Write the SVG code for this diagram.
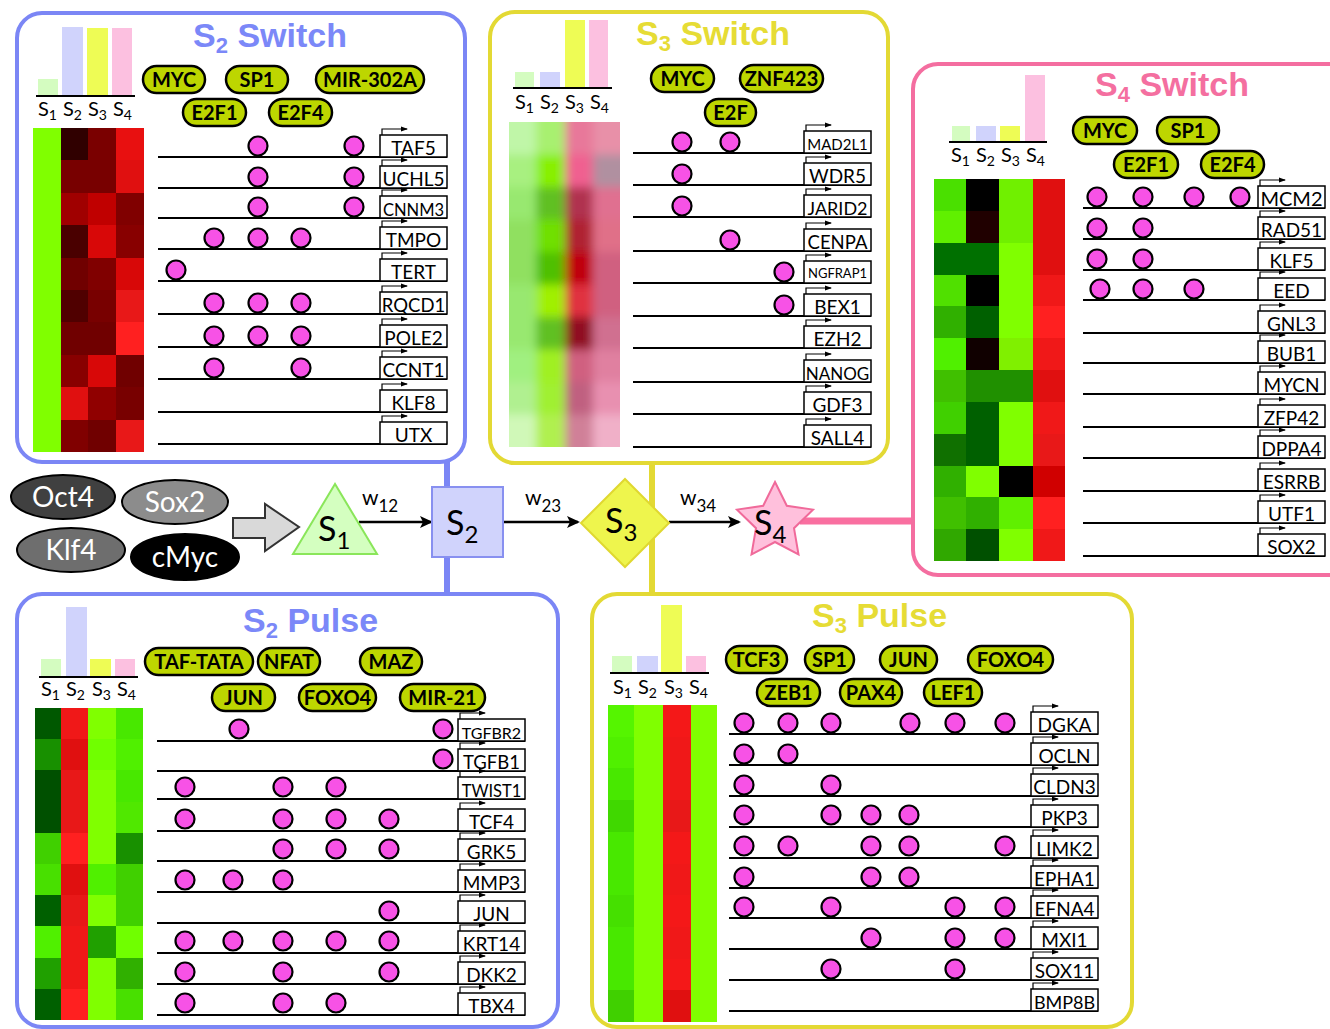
<svg xmlns="http://www.w3.org/2000/svg" width="1330" height="1029" viewBox="0 0 1330 1029">
<style>
.pan{fill:#fff;stroke-width:4}
.ttl{font-family:"Liberation Sans",Arial,sans-serif;font-weight:bold;font-size:34px}
.pill{fill:#bdd600;stroke:#000;stroke-width:2.5}
.tft{font-family:Lato,"Open Sans",sans-serif;font-weight:bold;font-size:20px;text-anchor:middle;fill:#000}
.gl{stroke:#000;stroke-width:2}
.gt{font-family:Lato,"Open Sans",sans-serif;font-size:19px;text-anchor:middle;fill:#000}
.bs{fill:#f752e6;stroke:#000;stroke-width:2.2}
.sl{font-family:Lato,"Open Sans",sans-serif;font-size:20px;fill:#000}
.bl{stroke:#000;stroke-width:2}
.b1{fill:#d4fcc0}.b2{fill:#d0d3fc}.b3{fill:#eefc55}.b4{fill:#fcc0e0}
.nl{font-family:Lato,"Open Sans",sans-serif;font-size:34px;fill:#000}
.wl{font-family:Lato,"Open Sans",sans-serif;font-size:21px;fill:#000}
.tfn{font-family:Lato,"Open Sans",sans-serif;font-size:28px;fill:#fff;text-anchor:middle}
.arr{stroke:#000;stroke-width:2.5;fill:none}
.hm rect{shape-rendering:crispEdges}
</style>
<defs>
<marker id="sa" markerWidth="7" markerHeight="6" refX="6" refY="3" orient="auto" markerUnits="userSpaceOnUse"><path d="M0,0.5 L7,3 L0,5.5z"/></marker>
<marker id="ah" markerWidth="13" markerHeight="12" refX="11" refY="6" orient="auto" markerUnits="userSpaceOnUse"><path d="M0,0 L13,6 L0,12 L3,6z"/></marker>
<g id="gb"><rect x="0" y="0" width="67" height="22" fill="#fff" stroke="#000" stroke-width="1.5"/><path d="M2,0 V-6 H27" fill="none" stroke="#000" stroke-width="1.2" marker-end="url(#sa)"/></g>
<clipPath id="c3"><rect x="509" y="122" width="111" height="325"/></clipPath>
<filter id="blur" x="-10%" y="-10%" width="120%" height="120%"><feGaussianBlur stdDeviation="5"/></filter>
</defs>

<g id="connectors">
<line x1="447" y1="462" x2="447" y2="594" stroke="#7b86f5" stroke-width="6"/>
<line x1="652" y1="463" x2="652" y2="594" stroke="#e3d934" stroke-width="6"/>
<line x1="800" y1="521" x2="914" y2="521" stroke="#f96fa0" stroke-width="7"/>
<line class="arr" x1="359" y1="522" x2="431" y2="522" marker-end="url(#ah)"/>
<line class="arr" x1="503" y1="522" x2="578" y2="522" marker-end="url(#ah)"/>
<line class="arr" x1="669" y1="522" x2="739" y2="522" marker-end="url(#ah)"/>
<polygon points="233,518 265,518 265,504 299,527 265,551 265,538 233,538" fill="#d9d9d9" stroke="#333" stroke-width="2"/>
<text class="wl" x="362" y="505">w<tspan dy="7" font-size="17">12</tspan></text>
<text class="wl" x="525" y="505">w<tspan dy="7" font-size="17">23</tspan></text>
<text class="wl" x="680" y="505">w<tspan dy="7" font-size="17">34</tspan></text>
</g>

<g id="factors">
<g id="oct4"><ellipse cx="63" cy="497" rx="52" ry="22" fill="#404040" stroke="#000" stroke-width="2"/><text class="tfn" x="63" y="507">Oct4</text></g>
<g id="sox2"><ellipse cx="175" cy="502" rx="53" ry="22" fill="#8c8c8c" stroke="#000" stroke-width="2"/><text class="tfn" x="175" y="512">Sox2</text></g>
<g id="klf4"><ellipse cx="71" cy="550" rx="54" ry="22" fill="#6e6e6e" stroke="#000" stroke-width="2"/><text class="tfn" x="71" y="560">Klf4</text></g>
<g id="cmyc"><ellipse cx="185" cy="557" rx="54" ry="23" fill="#000" stroke="#000" stroke-width="2"/><text class="tfn" x="185" y="567">cMyc</text></g>
</g>

<g id="node-s1"><polygon points="335,484 293,554 377,554" fill="#d4ffc0" stroke="#8ae65a" stroke-width="2"/><text class="nl" x="318" y="541">S<tspan dy="8" font-size="24">1</tspan></text></g>
<g id="node-s2"><rect x="432" y="487" width="71" height="70" fill="#d0d3fc" stroke="#8890f0" stroke-width="2"/><text class="nl" x="446" y="535">S<tspan dy="8" font-size="24">2</tspan></text></g>
<g id="node-s3"><polygon points="625,479 669,523 625,567 581,523" fill="#eef54d" stroke="#e0d830" stroke-width="2"/><text class="nl" x="605" y="533">S<tspan dy="8" font-size="24">3</tspan></text></g>
<g id="node-s4"><polygon points="775,482 786.8,505.8 813,509.6 794,528.2 798.5,554.4 775,542 751.5,554.4 756,528.2 737,509.6 763.2,505.8" fill="#ffc0dc" stroke="#f06a9a" stroke-width="2"/><text class="nl" x="754" y="535">S<tspan dy="8" font-size="24">4</tspan></text></g>

<!-- S2 Switch -->
<g id="s2-switch">
<rect class="pan" x="17" y="13" width="448" height="449" rx="25" stroke="#7b86f5"/>
<text class="ttl" x="193" y="47" fill="#7b88f8">S<tspan dy="6" font-size="22">2</tspan><tspan dy="-6"> Switch</tspan></text>
<rect class="b1" x="38" y="79" width="20" height="17"/><rect class="b2" x="62" y="27" width="21" height="69"/><rect class="b3" x="87" y="28" width="21" height="68"/><rect class="b4" x="112" y="28" width="20" height="68"/>
<line class="bl" x1="36" y1="96" x2="135" y2="96"/>
<text class="sl" x="38" y="116">S<tspan dy="4" font-size="14">1</tspan></text>
<text class="sl" x="63" y="116">S<tspan dy="4" font-size="14">2</tspan></text>
<text class="sl" x="88" y="116">S<tspan dy="4" font-size="14">3</tspan></text>
<text class="sl" x="113" y="116">S<tspan dy="4" font-size="14">4</tspan></text>
<g class="hm">
<rect x="33" y="128" width="28" height="324" fill="#80ff00"/>
<rect x="61" y="128" width="27" height="33" fill="#300000"/><rect x="88" y="128" width="28" height="33" fill="#7a0000"/><rect x="116" y="128" width="28" height="33" fill="#e81010"/>
<rect x="61" y="160.4" width="27" height="33" fill="#780000"/><rect x="88" y="160.4" width="28" height="33" fill="#780000"/><rect x="116" y="160.4" width="28" height="33" fill="#e01010"/>
<rect x="61" y="192.8" width="27" height="33" fill="#a00000"/><rect x="88" y="192.8" width="28" height="33" fill="#c00000"/><rect x="116" y="192.8" width="28" height="33" fill="#800000"/>
<rect x="61" y="225.2" width="27" height="33" fill="#4a0000"/><rect x="88" y="225.2" width="28" height="33" fill="#d80808"/><rect x="116" y="225.2" width="28" height="33" fill="#880000"/>
<rect x="61" y="257.6" width="27" height="33" fill="#700000"/><rect x="88" y="257.6" width="28" height="33" fill="#800000"/><rect x="116" y="257.6" width="28" height="33" fill="#d80808"/>
<rect x="61" y="290" width="27" height="33" fill="#500000"/><rect x="88" y="290" width="28" height="33" fill="#780000"/><rect x="116" y="290" width="28" height="33" fill="#e81818"/>
<rect x="61" y="322.4" width="27" height="33" fill="#700000"/><rect x="88" y="322.4" width="28" height="33" fill="#700000"/><rect x="116" y="322.4" width="28" height="33" fill="#ff2020"/>
<rect x="61" y="354.8" width="27" height="33" fill="#880000"/><rect x="88" y="354.8" width="28" height="33" fill="#d80808"/><rect x="116" y="354.8" width="28" height="33" fill="#700000"/>
<rect x="61" y="387.2" width="27" height="33" fill="#e01010"/><rect x="88" y="387.2" width="28" height="33" fill="#900000"/><rect x="116" y="387.2" width="28" height="33" fill="#780000"/>
<rect x="61" y="419.6" width="27" height="32.4" fill="#800000"/><rect x="88" y="419.6" width="28" height="32.4" fill="#700000"/><rect x="116" y="419.6" width="28" height="32.4" fill="#e81818"/>
</g>
<rect class="pill" x="143" y="66" width="62" height="27" rx="13.5"/><text class="tft" x="174" y="86.5">MYC</text>
<rect class="pill" x="226" y="66" width="62" height="27" rx="13.5"/><text class="tft" x="257" y="86.5">SP1</text>
<rect class="pill" x="316" y="66" width="108" height="27" rx="13.5"/><text class="tft" x="370" y="86.5">MIR-302A</text>
<rect class="pill" x="183" y="99" width="63" height="27" rx="13.5"/><text class="tft" x="214.5" y="119.5">E2F1</text>
<rect class="pill" x="269" y="99" width="63" height="27" rx="13.5"/><text class="tft" x="300.5" y="119.5">E2F4</text>
<line class="gl" x1="158" y1="157" x2="447" y2="157"/><use href="#gb" x="380" y="135"/><text class="gt" x="413.5" y="155">TAF5</text><circle class="bs" cx="258" cy="146" r="9.5"/><circle class="bs" cx="354" cy="146" r="9.5"/>
<line class="gl" x1="158" y1="188" x2="447" y2="188"/><use href="#gb" x="380" y="166"/><text class="gt" x="413.5" y="186">UCHL5</text><circle class="bs" cx="258" cy="177" r="9.5"/><circle class="bs" cx="354" cy="177" r="9.5"/>
<line class="gl" x1="158" y1="218" x2="447" y2="218"/><use href="#gb" x="380" y="196"/><text class="gt" x="413.5" y="216" style="font-size:16.5px">CNNM3</text><circle class="bs" cx="258" cy="207" r="9.5"/><circle class="bs" cx="354" cy="207" r="9.5"/>
<line class="gl" x1="158" y1="249" x2="447" y2="249"/><use href="#gb" x="380" y="227"/><text class="gt" x="413.5" y="247">TMPO</text><circle class="bs" cx="214" cy="238" r="9.5"/><circle class="bs" cx="258" cy="238" r="9.5"/><circle class="bs" cx="301" cy="238" r="9.5"/>
<line class="gl" x1="158" y1="281" x2="447" y2="281"/><use href="#gb" x="380" y="259"/><text class="gt" x="413.5" y="279">TERT</text><circle class="bs" cx="176" cy="270" r="9.5"/>
<line class="gl" x1="158" y1="314" x2="447" y2="314"/><use href="#gb" x="380" y="292"/><text class="gt" x="413.5" y="312" style="font-size:18.5px">RQCD1</text><circle class="bs" cx="214" cy="303" r="9.5"/><circle class="bs" cx="258" cy="303" r="9.5"/><circle class="bs" cx="301" cy="303" r="9.5"/>
<line class="gl" x1="158" y1="347" x2="447" y2="347"/><use href="#gb" x="380" y="325"/><text class="gt" x="413.5" y="345">POLE2</text><circle class="bs" cx="214" cy="336" r="9.5"/><circle class="bs" cx="258" cy="336" r="9.5"/><circle class="bs" cx="301" cy="336" r="9.5"/>
<line class="gl" x1="158" y1="379" x2="447" y2="379"/><use href="#gb" x="380" y="357"/><text class="gt" x="413.5" y="377">CCNT1</text><circle class="bs" cx="214" cy="368" r="9.5"/><circle class="bs" cx="301" cy="368" r="9.5"/>
<line class="gl" x1="158" y1="412" x2="447" y2="412"/><use href="#gb" x="380" y="390"/><text class="gt" x="413.5" y="410">KLF8</text>
<line class="gl" x1="158" y1="444" x2="447" y2="444"/><use href="#gb" x="380" y="422"/><text class="gt" x="413.5" y="442">UTX</text>
</g>

<!-- S3 Switch -->
<g id="s3-switch">
<rect class="pan" x="490" y="12" width="398" height="451" rx="25" stroke="#e3d934"/>
<text class="ttl" x="636" y="45" fill="#e6dc35">S<tspan dy="6" font-size="22">3</tspan><tspan dy="-6"> Switch</tspan></text>
<rect class="b1" x="515" y="72" width="19" height="16"/><rect class="b2" x="540" y="72" width="20" height="16"/><rect class="b3" x="565" y="20" width="20" height="68"/><rect class="b4" x="589" y="20" width="19" height="68"/>
<line class="bl" x1="513" y1="88" x2="612" y2="88"/>
<text class="sl" x="515" y="109">S<tspan dy="4" font-size="14">1</tspan></text>
<text class="sl" x="540" y="109">S<tspan dy="4" font-size="14">2</tspan></text>
<text class="sl" x="565" y="109">S<tspan dy="4" font-size="14">3</tspan></text>
<text class="sl" x="590" y="109">S<tspan dy="4" font-size="14">4</tspan></text>
<g clip-path="url(#c3)"><g filter="url(#blur)">
<rect x="495" y="108" width="41" height="47" fill="#c0f6a8"/><rect x="536" y="108" width="29" height="47" fill="#a8f070"/><rect x="565" y="108" width="28" height="47" fill="#e8789a"/><rect x="593" y="108" width="41" height="47" fill="#e890a8"/>
<rect x="495" y="154.5" width="41" height="33" fill="#a8f080"/><rect x="536" y="154.5" width="29" height="33" fill="#88f000"/><rect x="565" y="154.5" width="28" height="33" fill="#f06090"/><rect x="593" y="154.5" width="41" height="33" fill="#b090a0"/>
<rect x="495" y="187" width="41" height="33" fill="#98e870"/><rect x="536" y="187" width="29" height="33" fill="#60c020"/><rect x="565" y="187" width="28" height="33" fill="#b03050"/><rect x="593" y="187" width="41" height="33" fill="#e07090"/>
<rect x="495" y="219.5" width="41" height="33" fill="#90e060"/><rect x="536" y="219.5" width="29" height="33" fill="#70e000"/><rect x="565" y="219.5" width="28" height="33" fill="#b02030"/><rect x="593" y="219.5" width="41" height="33" fill="#e07088"/>
<rect x="495" y="252" width="41" height="33" fill="#90e060"/><rect x="536" y="252" width="29" height="33" fill="#50c000"/><rect x="565" y="252" width="28" height="33" fill="#c00010"/><rect x="593" y="252" width="41" height="33" fill="#d06080"/>
<rect x="495" y="284.5" width="41" height="33" fill="#98e870"/><rect x="536" y="284.5" width="29" height="33" fill="#a0f000"/><rect x="565" y="284.5" width="28" height="33" fill="#e03040"/><rect x="593" y="284.5" width="41" height="33" fill="#d06080"/>
<rect x="495" y="317" width="41" height="33" fill="#98e870"/><rect x="536" y="317" width="29" height="33" fill="#60c020"/><rect x="565" y="317" width="28" height="33" fill="#901020"/><rect x="593" y="317" width="41" height="33" fill="#d07090"/>
<rect x="495" y="349.5" width="41" height="33" fill="#a0f080"/><rect x="536" y="349.5" width="29" height="33" fill="#a0f020"/><rect x="565" y="349.5" width="28" height="33" fill="#d06080"/><rect x="593" y="349.5" width="41" height="33" fill="#e080a0"/>
<rect x="495" y="382" width="41" height="33" fill="#b0f090"/><rect x="536" y="382" width="29" height="33" fill="#a0f030"/><rect x="565" y="382" width="28" height="33" fill="#c06080"/><rect x="593" y="382" width="41" height="33" fill="#e890b0"/>
<rect x="495" y="414.5" width="41" height="47" fill="#d0f8b8"/><rect x="536" y="414.5" width="29" height="47" fill="#b0f050"/><rect x="565" y="414.5" width="28" height="47" fill="#d08098"/><rect x="593" y="414.5" width="41" height="47" fill="#f0b0c8"/>
</g></g>
<rect class="pill" x="651" y="65" width="63" height="27" rx="13.5"/><text class="tft" x="682.5" y="85.5">MYC</text>
<rect class="pill" x="740" y="65" width="83" height="27" rx="13.5"/><text class="tft" x="781.5" y="85.5">ZNF423</text>
<rect class="pill" x="705" y="99" width="51" height="27" rx="13.5"/><text class="tft" x="730.5" y="119.5">E2F</text>
<line class="gl" x1="633" y1="153" x2="871" y2="153"/><use href="#gb" x="804" y="131"/><text class="gt" x="837.5" y="150" style="font-size:15px">MAD2L1</text><circle class="bs" cx="682" cy="142" r="9.5"/><circle class="bs" cx="730" cy="142" r="9.5"/>
<line class="gl" x1="633" y1="185" x2="871" y2="185"/><use href="#gb" x="804" y="163"/><text class="gt" x="837.5" y="183">WDR5</text><circle class="bs" cx="682" cy="174" r="9.5"/>
<line class="gl" x1="633" y1="217" x2="871" y2="217"/><use href="#gb" x="804" y="195"/><text class="gt" x="837.5" y="215" style="font-size:18px">JARID2</text><circle class="bs" cx="682" cy="206" r="9.5"/>
<line class="gl" x1="633" y1="251" x2="871" y2="251"/><use href="#gb" x="804" y="229"/><text class="gt" x="837.5" y="249" style="font-size:18.5px">CENPA</text><circle class="bs" cx="730" cy="240" r="9.5"/>
<line class="gl" x1="633" y1="283" x2="871" y2="283"/><use href="#gb" x="804" y="261"/><text class="gt" x="837.5" y="278" style="font-size:13px">NGFRAP1</text><circle class="bs" cx="784" cy="272" r="9.5"/>
<line class="gl" x1="633" y1="316" x2="871" y2="316"/><use href="#gb" x="804" y="294"/><text class="gt" x="837.5" y="314">BEX1</text><circle class="bs" cx="784" cy="305" r="9.5"/>
<line class="gl" x1="633" y1="348" x2="871" y2="348"/><use href="#gb" x="804" y="326"/><text class="gt" x="837.5" y="346">EZH2</text>
<line class="gl" x1="633" y1="382" x2="871" y2="382"/><use href="#gb" x="804" y="360"/><text class="gt" x="837.5" y="380" style="font-size:17px">NANOG</text>
<line class="gl" x1="633" y1="414" x2="871" y2="414"/><use href="#gb" x="804" y="392"/><text class="gt" x="837.5" y="412">GDF3</text>
<line class="gl" x1="633" y1="447" x2="871" y2="447"/><use href="#gb" x="804" y="425"/><text class="gt" x="837.5" y="445">SALL4</text>
</g>

<!-- S4 Switch -->
<g id="s4-switch">
<rect class="pan" x="913" y="64" width="440" height="511" rx="25" stroke="#f46ea0"/>
<text class="ttl" x="1095" y="96" fill="#f46fa0">S<tspan dy="6" font-size="22">4</tspan><tspan dy="-6"> Switch</tspan></text>
<rect class="b1" x="952" y="126" width="18" height="16"/><rect class="b2" x="976" y="126" width="20" height="16"/><rect class="b3" x="1000" y="126" width="20" height="16"/><rect class="b4" x="1025" y="75" width="20" height="67"/>
<line class="bl" x1="949" y1="142" x2="1047" y2="142"/>
<text class="sl" x="951" y="162">S<tspan dy="4" font-size="14">1</tspan></text>
<text class="sl" x="976" y="162">S<tspan dy="4" font-size="14">2</tspan></text>
<text class="sl" x="1001" y="162">S<tspan dy="4" font-size="14">3</tspan></text>
<text class="sl" x="1026" y="162">S<tspan dy="4" font-size="14">4</tspan></text>
<g class="hm">
<rect x="934" y="179" width="32" height="32.3" fill="#4ae000"/><rect x="966" y="179" width="33" height="32.3" fill="#000000"/><rect x="999" y="179" width="34" height="32.3" fill="#70f000"/><rect x="1033" y="179" width="32" height="32.3" fill="#e01010"/>
<rect x="934" y="210.8" width="32" height="32.3" fill="#60f000"/><rect x="966" y="210.8" width="33" height="32.3" fill="#200000"/><rect x="999" y="210.8" width="34" height="32.3" fill="#70f000"/><rect x="1033" y="210.8" width="32" height="32.3" fill="#e01010"/>
<rect x="934" y="242.7" width="32" height="32.3" fill="#007000"/><rect x="966" y="242.7" width="33" height="32.3" fill="#007000"/><rect x="999" y="242.7" width="34" height="32.3" fill="#80ff00"/><rect x="1033" y="242.7" width="32" height="32.3" fill="#e01010"/>
<rect x="934" y="274.5" width="32" height="32.3" fill="#50e000"/><rect x="966" y="274.5" width="33" height="32.3" fill="#000000"/><rect x="999" y="274.5" width="34" height="32.3" fill="#80ff00"/><rect x="1033" y="274.5" width="32" height="32.3" fill="#f01818"/>
<rect x="934" y="306.3" width="32" height="32.3" fill="#30b000"/><rect x="966" y="306.3" width="33" height="32.3" fill="#006000"/><rect x="999" y="306.3" width="34" height="32.3" fill="#80ff00"/><rect x="1033" y="306.3" width="32" height="32.3" fill="#ff2020"/>
<rect x="934" y="338.2" width="32" height="32.3" fill="#50f000"/><rect x="966" y="338.2" width="33" height="32.3" fill="#100000"/><rect x="999" y="338.2" width="34" height="32.3" fill="#80f000"/><rect x="1033" y="338.2" width="32" height="32.3" fill="#f01818"/>
<rect x="934" y="370" width="32" height="32.3" fill="#40c000"/><rect x="966" y="370" width="33" height="32.3" fill="#209000"/><rect x="999" y="370" width="34" height="32.3" fill="#209000"/><rect x="1033" y="370" width="32" height="32.3" fill="#e01010"/>
<rect x="934" y="401.8" width="32" height="32.3" fill="#40d000"/><rect x="966" y="401.8" width="33" height="32.3" fill="#006000"/><rect x="999" y="401.8" width="34" height="32.3" fill="#80ff00"/><rect x="1033" y="401.8" width="32" height="32.3" fill="#f01818"/>
<rect x="934" y="433.7" width="32" height="32.3" fill="#107000"/><rect x="966" y="433.7" width="33" height="32.3" fill="#006000"/><rect x="999" y="433.7" width="34" height="32.3" fill="#80ff00"/><rect x="1033" y="433.7" width="32" height="32.3" fill="#e81818"/>
<rect x="934" y="465.5" width="32" height="32.3" fill="#30b000"/><rect x="966" y="465.5" width="33" height="32.3" fill="#80ff00"/><rect x="999" y="465.5" width="34" height="32.3" fill="#000000"/><rect x="1033" y="465.5" width="32" height="32.3" fill="#d00000"/>
<rect x="934" y="497.3" width="32" height="32.3" fill="#40c000"/><rect x="966" y="497.3" width="33" height="32.3" fill="#30b000"/><rect x="999" y="497.3" width="34" height="32.3" fill="#60f000"/><rect x="1033" y="497.3" width="32" height="32.3" fill="#ff2020"/>
<rect x="934" y="529.2" width="32" height="31.8" fill="#30a800"/><rect x="966" y="529.2" width="33" height="31.8" fill="#005000"/><rect x="999" y="529.2" width="34" height="31.8" fill="#80ff00"/><rect x="1033" y="529.2" width="32" height="31.8" fill="#f01818"/>
</g>
<rect class="pill" x="1073" y="117" width="64" height="27" rx="13.5"/><text class="tft" x="1105" y="137.5">MYC</text>
<rect class="pill" x="1157" y="117" width="62" height="27" rx="13.5"/><text class="tft" x="1188" y="137.5">SP1</text>
<rect class="pill" x="1114" y="151" width="64" height="27" rx="13.5"/><text class="tft" x="1146" y="171.5">E2F1</text>
<rect class="pill" x="1201" y="151" width="63" height="27" rx="13.5"/><text class="tft" x="1232.5" y="171.5">E2F4</text>
<line class="gl" x1="1083" y1="208" x2="1325" y2="208"/><use href="#gb" x="1258" y="186"/><text class="gt" x="1291.5" y="206" style="font-size:20px">MCM2</text><circle class="bs" cx="1097" cy="197" r="9.5"/><circle class="bs" cx="1143" cy="197" r="9.5"/><circle class="bs" cx="1194" cy="197" r="9.5"/><circle class="bs" cx="1240" cy="197" r="9.5"/>
<line class="gl" x1="1083" y1="239" x2="1325" y2="239"/><use href="#gb" x="1258" y="217"/><text class="gt" x="1291.5" y="237">RAD51</text><circle class="bs" cx="1097" cy="228" r="9.5"/><circle class="bs" cx="1143" cy="228" r="9.5"/>
<line class="gl" x1="1083" y1="270" x2="1325" y2="270"/><use href="#gb" x="1258" y="248"/><text class="gt" x="1291.5" y="268">KLF5</text><circle class="bs" cx="1097" cy="259" r="9.5"/><circle class="bs" cx="1143" cy="259" r="9.5"/>
<line class="gl" x1="1083" y1="300" x2="1325" y2="300"/><use href="#gb" x="1258" y="278"/><text class="gt" x="1291.5" y="298">EED</text><circle class="bs" cx="1100" cy="289" r="9.5"/><circle class="bs" cx="1143" cy="289" r="9.5"/><circle class="bs" cx="1194" cy="289" r="9.5"/>
<line class="gl" x1="1083" y1="333" x2="1325" y2="333"/><use href="#gb" x="1258" y="311"/><text class="gt" x="1291.5" y="331">GNL3</text>
<line class="gl" x1="1083" y1="363" x2="1325" y2="363"/><use href="#gb" x="1258" y="341"/><text class="gt" x="1291.5" y="361">BUB1</text>
<line class="gl" x1="1083" y1="394" x2="1325" y2="394"/><use href="#gb" x="1258" y="372"/><text class="gt" x="1291.5" y="392">MYCN</text>
<line class="gl" x1="1083" y1="427" x2="1325" y2="427"/><use href="#gb" x="1258" y="405"/><text class="gt" x="1291.5" y="425">ZFP42</text>
<line class="gl" x1="1083" y1="458" x2="1325" y2="458"/><use href="#gb" x="1258" y="436"/><text class="gt" x="1291.5" y="456">DPPA4</text>
<line class="gl" x1="1083" y1="491" x2="1325" y2="491"/><use href="#gb" x="1258" y="469"/><text class="gt" x="1291.5" y="489">ESRRB</text>
<line class="gl" x1="1083" y1="523" x2="1325" y2="523"/><use href="#gb" x="1258" y="501"/><text class="gt" x="1291.5" y="521">UTF1</text>
<line class="gl" x1="1083" y1="556" x2="1325" y2="556"/><use href="#gb" x="1258" y="534"/><text class="gt" x="1291.5" y="554">SOX2</text>
</g>

<!-- S2 Pulse -->
<g id="s2-pulse">
<rect class="pan" x="17" y="594" width="541" height="433" rx="25" stroke="#7b86f5"/>
<text class="ttl" x="243" y="632" fill="#7b88f8">S<tspan dy="6" font-size="22">2</tspan><tspan dy="-6"> Pulse</tspan></text>
<rect class="b1" x="41" y="659" width="20" height="18"/><rect class="b2" x="66" y="607" width="21" height="70"/><rect class="b3" x="90" y="659" width="21" height="18"/><rect class="b4" x="115" y="659" width="20" height="18"/>
<line class="bl" x1="39" y1="677" x2="138" y2="677"/>
<text class="sl" x="41" y="696">S<tspan dy="4" font-size="14">1</tspan></text>
<text class="sl" x="66" y="696">S<tspan dy="4" font-size="14">2</tspan></text>
<text class="sl" x="92" y="696">S<tspan dy="4" font-size="14">3</tspan></text>
<text class="sl" x="117" y="696">S<tspan dy="4" font-size="14">4</tspan></text>
<g class="hm">
<rect x="35" y="708" width="26" height="31.7" fill="#005800"/><rect x="61" y="708" width="27" height="31.7" fill="#f01818"/><rect x="88" y="708" width="28" height="31.7" fill="#80ff00"/><rect x="116" y="708" width="27" height="31.7" fill="#48e800"/>
<rect x="35" y="739.2" width="26" height="31.7" fill="#189000"/><rect x="61" y="739.2" width="27" height="31.7" fill="#e01010"/><rect x="88" y="739.2" width="28" height="31.7" fill="#70ff00"/><rect x="116" y="739.2" width="27" height="31.7" fill="#50f000"/>
<rect x="35" y="770.4" width="26" height="31.7" fill="#005000"/><rect x="61" y="770.4" width="27" height="31.7" fill="#e81818"/><rect x="88" y="770.4" width="28" height="31.7" fill="#80ff00"/><rect x="116" y="770.4" width="27" height="31.7" fill="#48e800"/>
<rect x="35" y="801.6" width="26" height="31.7" fill="#005000"/><rect x="61" y="801.6" width="27" height="31.7" fill="#e81818"/><rect x="88" y="801.6" width="28" height="31.7" fill="#80ff00"/><rect x="116" y="801.6" width="27" height="31.7" fill="#50e800"/>
<rect x="35" y="832.8" width="26" height="31.7" fill="#40d000"/><rect x="61" y="832.8" width="27" height="31.7" fill="#ff2020"/><rect x="88" y="832.8" width="28" height="31.7" fill="#80ff00"/><rect x="116" y="832.8" width="27" height="31.7" fill="#189000"/>
<rect x="35" y="864" width="26" height="31.7" fill="#48e000"/><rect x="61" y="864" width="27" height="31.7" fill="#e01010"/><rect x="88" y="864" width="28" height="31.7" fill="#50f000"/><rect x="116" y="864" width="27" height="31.7" fill="#40d000"/>
<rect x="35" y="895.2" width="26" height="31.7" fill="#006000"/><rect x="61" y="895.2" width="27" height="31.7" fill="#e81818"/><rect x="88" y="895.2" width="28" height="31.7" fill="#80ff00"/><rect x="116" y="895.2" width="27" height="31.7" fill="#40d000"/>
<rect x="35" y="926.4" width="26" height="31.7" fill="#50f000"/><rect x="61" y="926.4" width="27" height="31.7" fill="#f01818"/><rect x="88" y="926.4" width="28" height="31.7" fill="#20a000"/><rect x="116" y="926.4" width="27" height="31.7" fill="#70ff00"/>
<rect x="35" y="957.6" width="26" height="31.7" fill="#20a000"/><rect x="61" y="957.6" width="27" height="31.7" fill="#f01818"/><rect x="88" y="957.6" width="28" height="31.7" fill="#80ff00"/><rect x="116" y="957.6" width="27" height="31.7" fill="#30b000"/>
<rect x="35" y="988.8" width="26" height="31.2" fill="#006000"/><rect x="61" y="988.8" width="27" height="31.2" fill="#ff2020"/><rect x="88" y="988.8" width="28" height="31.2" fill="#80ff00"/><rect x="116" y="988.8" width="27" height="31.2" fill="#48e000"/>
</g>
<rect class="pill" x="145" y="648" width="108" height="27" rx="13.5"/><text class="tft" x="199" y="668.5">TAF-TATA</text>
<rect class="pill" x="258" y="648" width="62" height="27" rx="13.5"/><text class="tft" x="289" y="668.5">NFAT</text>
<rect class="pill" x="360" y="648" width="62" height="27" rx="13.5"/><text class="tft" x="391" y="668.5">MAZ</text>
<rect class="pill" x="212" y="684" width="63" height="27" rx="13.5"/><text class="tft" x="243.5" y="704.5">JUN</text>
<rect class="pill" x="299" y="684" width="77" height="27" rx="13.5"/><text class="tft" x="337.5" y="704.5">FOXO4</text>
<rect class="pill" x="400" y="684" width="85" height="27" rx="13.5"/><text class="tft" x="442.5" y="704.5">MIR-21</text>
<line class="gl" x1="157" y1="741" x2="525" y2="741"/><use href="#gb" x="458" y="719"/><text class="gt" x="491.5" y="739" style="font-size:16px">TGFBR2</text><circle class="bs" cx="239" cy="729" r="9.5"/><circle class="bs" cx="443" cy="729" r="9.5"/>
<line class="gl" x1="157" y1="771" x2="525" y2="771"/><use href="#gb" x="458" y="749"/><text class="gt" x="491.5" y="769" style="font-size:18.5px">TGFB1</text><circle class="bs" cx="443" cy="759" r="9.5"/>
<line class="gl" x1="157" y1="799" x2="525" y2="799"/><use href="#gb" x="458" y="777"/><text class="gt" x="491.5" y="797" style="font-size:16.5px">TWIST1</text><circle class="bs" cx="185" cy="787" r="9.5"/><circle class="bs" cx="283" cy="787" r="9.5"/><circle class="bs" cx="336" cy="787" r="9.5"/>
<line class="gl" x1="157" y1="831" x2="525" y2="831"/><use href="#gb" x="458" y="809"/><text class="gt" x="491.5" y="829">TCF4</text><circle class="bs" cx="185" cy="819" r="9.5"/><circle class="bs" cx="283" cy="819" r="9.5"/><circle class="bs" cx="336" cy="819" r="9.5"/><circle class="bs" cx="389" cy="819" r="9.5"/>
<line class="gl" x1="157" y1="861" x2="525" y2="861"/><use href="#gb" x="458" y="839"/><text class="gt" x="491.5" y="859">GRK5</text><circle class="bs" cx="283" cy="849" r="9.5"/><circle class="bs" cx="336" cy="849" r="9.5"/><circle class="bs" cx="389" cy="849" r="9.5"/>
<line class="gl" x1="157" y1="892" x2="525" y2="892"/><use href="#gb" x="458" y="870"/><text class="gt" x="491.5" y="890">MMP3</text><circle class="bs" cx="185" cy="880" r="9.5"/><circle class="bs" cx="233" cy="880" r="9.5"/><circle class="bs" cx="283" cy="880" r="9.5"/>
<line class="gl" x1="157" y1="923" x2="525" y2="923"/><use href="#gb" x="458" y="901"/><text class="gt" x="491.5" y="921">JUN</text><circle class="bs" cx="389" cy="911" r="9.5"/>
<line class="gl" x1="157" y1="953" x2="525" y2="953"/><use href="#gb" x="458" y="931"/><text class="gt" x="491.5" y="951">KRT14</text><circle class="bs" cx="185" cy="941" r="9.5"/><circle class="bs" cx="233" cy="941" r="9.5"/><circle class="bs" cx="283" cy="941" r="9.5"/><circle class="bs" cx="336" cy="941" r="9.5"/><circle class="bs" cx="389" cy="941" r="9.5"/>
<line class="gl" x1="157" y1="984" x2="525" y2="984"/><use href="#gb" x="458" y="962"/><text class="gt" x="491.5" y="982">DKK2</text><circle class="bs" cx="185" cy="972" r="9.5"/><circle class="bs" cx="283" cy="972" r="9.5"/><circle class="bs" cx="389" cy="972" r="9.5"/>
<line class="gl" x1="157" y1="1015" x2="525" y2="1015"/><use href="#gb" x="458" y="993"/><text class="gt" x="491.5" y="1013">TBX4</text><circle class="bs" cx="185" cy="1003" r="9.5"/><circle class="bs" cx="283" cy="1003" r="9.5"/><circle class="bs" cx="336" cy="1003" r="9.5"/>
</g>

<!-- S3 Pulse -->
<g id="s3-pulse">
<rect class="pan" x="592" y="594" width="540" height="433" rx="25" stroke="#e3d934"/>
<text class="ttl" x="812" y="627" fill="#e6dc35">S<tspan dy="6" font-size="22">3</tspan><tspan dy="-6"> Pulse</tspan></text>
<rect class="b1" x="612" y="656" width="20" height="17"/><rect class="b2" x="637" y="656" width="21" height="17"/><rect class="b3" x="661" y="605" width="21" height="68"/><rect class="b4" x="686" y="656" width="20" height="17"/>
<line class="bl" x1="610" y1="673" x2="709" y2="673"/>
<text class="sl" x="613" y="694">S<tspan dy="4" font-size="14">1</tspan></text>
<text class="sl" x="638" y="694">S<tspan dy="4" font-size="14">2</tspan></text>
<text class="sl" x="664" y="694">S<tspan dy="4" font-size="14">3</tspan></text>
<text class="sl" x="689" y="694">S<tspan dy="4" font-size="14">4</tspan></text>
<g class="hm">
<rect x="634" y="705" width="29" height="317" fill="#80ff00"/><rect x="691" y="705" width="26" height="317" fill="#80ff00"/>
<rect x="608" y="705" width="26" height="32.2" fill="#55f500"/><rect x="663" y="705" width="28" height="32.2" fill="#f41818"/>
<rect x="608" y="736.7" width="26" height="32.2" fill="#50f000"/><rect x="663" y="736.7" width="28" height="32.2" fill="#f01818"/>
<rect x="608" y="768.4" width="26" height="32.2" fill="#48e800"/><rect x="663" y="768.4" width="28" height="32.2" fill="#f01818"/>
<rect x="608" y="800.1" width="26" height="32.2" fill="#40d800"/><rect x="663" y="800.1" width="28" height="32.2" fill="#e81818"/>
<rect x="608" y="831.8" width="26" height="32.2" fill="#48e800"/><rect x="663" y="831.8" width="28" height="32.2" fill="#f41818"/>
<rect x="608" y="863.5" width="26" height="32.2" fill="#48e800"/><rect x="663" y="863.5" width="28" height="32.2" fill="#f01818"/>
<rect x="608" y="895.2" width="26" height="32.2" fill="#45e000"/><rect x="663" y="895.2" width="28" height="32.2" fill="#f41818"/>
<rect x="608" y="926.9" width="26" height="32.2" fill="#48e800"/><rect x="663" y="926.9" width="28" height="32.2" fill="#f01818"/>
<rect x="608" y="958.6" width="26" height="32.2" fill="#48e800"/><rect x="663" y="958.6" width="28" height="32.2" fill="#f41818"/>
<rect x="608" y="990.3" width="26" height="31.7" fill="#40d000"/><rect x="663" y="990.3" width="28" height="31.7" fill="#e01010"/>
</g>
<rect class="pill" x="726" y="646" width="61" height="27" rx="13.5"/><text class="tft" x="756.5" y="666.5">TCF3</text>
<rect class="pill" x="805" y="646" width="49" height="27" rx="13.5"/><text class="tft" x="829.5" y="666.5">SP1</text>
<rect class="pill" x="880" y="646" width="57" height="27" rx="13.5"/><text class="tft" x="908.5" y="666.5">JUN</text>
<rect class="pill" x="968" y="646" width="85" height="27" rx="13.5"/><text class="tft" x="1010.5" y="666.5">FOXO4</text>
<rect class="pill" x="757" y="679" width="63" height="27" rx="13.5"/><text class="tft" x="788.5" y="699.5">ZEB1</text>
<rect class="pill" x="840" y="679" width="62" height="27" rx="13.5"/><text class="tft" x="871" y="699.5">PAX4</text>
<rect class="pill" x="924" y="679" width="58" height="27" rx="13.5"/><text class="tft" x="953" y="699.5">LEF1</text>
<line class="gl" x1="729" y1="734" x2="1098" y2="734"/><use href="#gb" x="1031" y="712"/><text class="gt" x="1064.5" y="732">DGKA</text><circle class="bs" cx="744" cy="723" r="9.5"/><circle class="bs" cx="788" cy="723" r="9.5"/><circle class="bs" cx="831" cy="723" r="9.5"/><circle class="bs" cx="910" cy="723" r="9.5"/><circle class="bs" cx="955" cy="723" r="9.5"/><circle class="bs" cx="1005" cy="723" r="9.5"/>
<line class="gl" x1="729" y1="765" x2="1098" y2="765"/><use href="#gb" x="1031" y="743"/><text class="gt" x="1064.5" y="763">OCLN</text><circle class="bs" cx="744" cy="754" r="9.5"/><circle class="bs" cx="788" cy="754" r="9.5"/>
<line class="gl" x1="729" y1="796" x2="1098" y2="796"/><use href="#gb" x="1031" y="774"/><text class="gt" x="1064.5" y="794">CLDN3</text><circle class="bs" cx="744" cy="785" r="9.5"/><circle class="bs" cx="831" cy="785" r="9.5"/>
<line class="gl" x1="729" y1="827" x2="1098" y2="827"/><use href="#gb" x="1031" y="805"/><text class="gt" x="1064.5" y="825">PKP3</text><circle class="bs" cx="744" cy="815" r="9.5"/><circle class="bs" cx="831" cy="815" r="9.5"/><circle class="bs" cx="871" cy="815" r="9.5"/><circle class="bs" cx="909" cy="815" r="9.5"/>
<line class="gl" x1="729" y1="858" x2="1098" y2="858"/><use href="#gb" x="1031" y="836"/><text class="gt" x="1064.5" y="856">LIMK2</text><circle class="bs" cx="744" cy="846" r="9.5"/><circle class="bs" cx="788" cy="846" r="9.5"/><circle class="bs" cx="871" cy="846" r="9.5"/><circle class="bs" cx="909" cy="846" r="9.5"/><circle class="bs" cx="1005" cy="846" r="9.5"/>
<line class="gl" x1="729" y1="888" x2="1098" y2="888"/><use href="#gb" x="1031" y="866"/><text class="gt" x="1064.5" y="886">EPHA1</text><circle class="bs" cx="744" cy="877" r="9.5"/><circle class="bs" cx="871" cy="877" r="9.5"/><circle class="bs" cx="909" cy="877" r="9.5"/>
<line class="gl" x1="729" y1="918" x2="1098" y2="918"/><use href="#gb" x="1031" y="896"/><text class="gt" x="1064.5" y="916">EFNA4</text><circle class="bs" cx="744" cy="907" r="9.5"/><circle class="bs" cx="831" cy="907" r="9.5"/><circle class="bs" cx="955" cy="907" r="9.5"/><circle class="bs" cx="1005" cy="907" r="9.5"/>
<line class="gl" x1="729" y1="949" x2="1098" y2="949"/><use href="#gb" x="1031" y="927"/><text class="gt" x="1064.5" y="947">MXI1</text><circle class="bs" cx="871" cy="938" r="9.5"/><circle class="bs" cx="955" cy="938" r="9.5"/><circle class="bs" cx="1005" cy="938" r="9.5"/>
<line class="gl" x1="729" y1="980" x2="1098" y2="980"/><use href="#gb" x="1031" y="958"/><text class="gt" x="1064.5" y="978">SOX11</text><circle class="bs" cx="831" cy="969" r="9.5"/><circle class="bs" cx="955" cy="969" r="9.5"/>
<line class="gl" x1="729" y1="1011" x2="1098" y2="1011"/><use href="#gb" x="1031" y="989"/><text class="gt" x="1064.5" y="1009" style="font-size:18px">BMP8B</text>
</g>
</svg>
